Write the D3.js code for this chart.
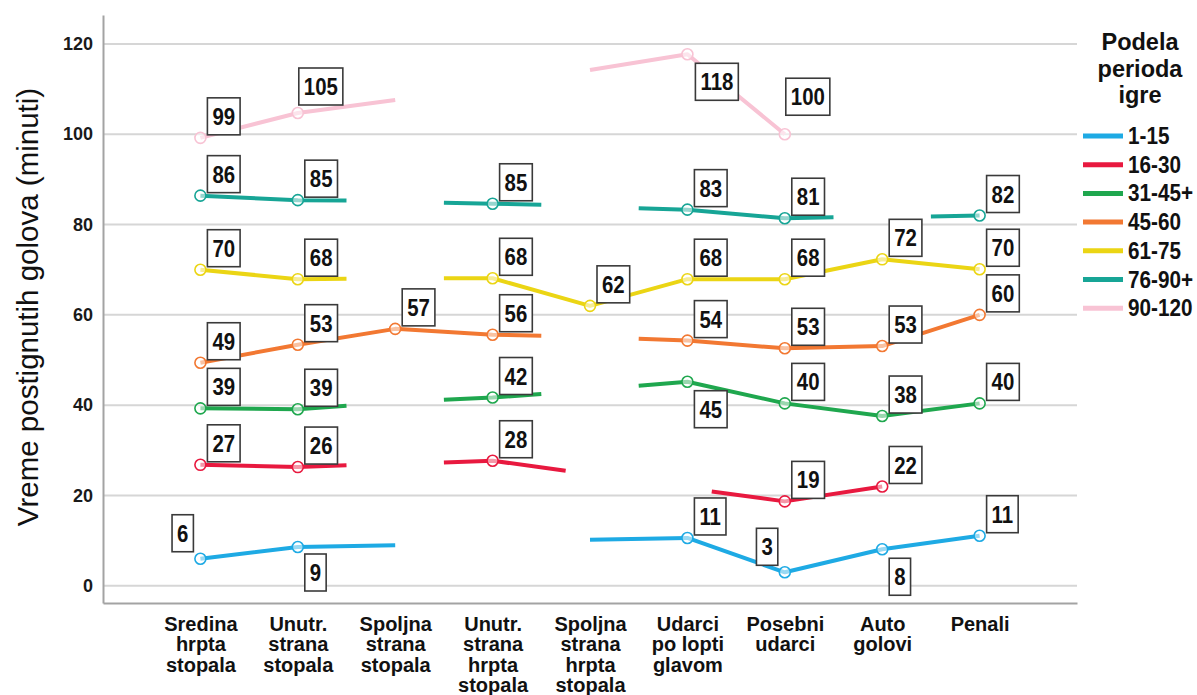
<!DOCTYPE html>
<html>
<head>
<meta charset="utf-8">
<script src="https://cdn.jsdelivr.net/npm/d3@7"></script>
<style>
  body { margin: 0; background: #fff; }
  text { font-family: "Liberation Sans", Arial, sans-serif; }
</style>
</head>
<body>
<svg id="chart" width="1197" height="695"></svg>
<script>
// x axis categories, "|" splits the label lines
var categories = ["Sredina|hrpta|stopala", "Unutr.|strana|stopala", "Spoljna|strana|stopala",
  "Unutr.|strana|hrpta|stopala", "Spoljna|strana|hrpta|stopala", "Udarci|po lopti|glavom",
  "Posebni|udarci", "Auto|golovi", "Penali"];
var yTicks = [0, 20, 40, 60, 80, 100, 120];
var seriesNames = ["1-15", "16-30", "31-45+", "45-60", "61-75", "76-90+", "90-120"];

// line pieces per series as [category position, minutes]
// (fractional positions = where the line is cut off next to a missing category)
var s1_15 = [[[0, 6.0], [1, 8.6], [2, 9.0]], [[4, 10.2], [5, 10.6], [6, 3.0], [7, 8.1], [8, 11.1]]];
var s16_30 = [[[0, 26.8], [1, 26.3], [1.5, 26.7]], [[2.5, 27.3], [3, 27.7], [3.75, 25.5]], [[5.25, 20.9], [6, 18.7], [7, 22.0]]];
var s31_45 = [[[0, 39.3], [1, 39.1], [1.5, 39.9]], [[2.5, 41.2], [3, 41.7], [3.5, 42.5]], [[4.5, 44.3], [5, 45.2], [6, 40.4], [7, 37.6], [8, 40.4]]];
var s45_60 = [[[0, 49.4], [1, 53.4], [2, 56.9], [3, 55.6], [3.5, 55.4]], [[4.5, 54.7], [5, 54.3], [6, 52.6], [7, 53.1], [8, 60.0]]];
var s61_75 = [[[0, 70.0], [1, 67.9], [1.5, 68.0]], [[2.5, 68.1], [3, 68.1], [4, 62.0], [5, 67.9], [6, 67.9], [7, 72.3], [8, 70.1]]];
var s76_90 = [[[0, 86.4], [1, 85.4], [1.5, 85.3]], [[2.5, 84.8], [3, 84.6], [3.5, 84.4]], [[4.5, 83.6], [5, 83.3], [6, 81.4], [6.5, 81.6]], [[7.5, 81.8], [8, 82.0]]];
var s90_120 = [[[0, 99.2], [1, 104.7], [2, 107.6]], [[4, 114.2], [5, 117.7], [6, 100.0]]];

// categories that carry a marker and a value label
var m1_15 = [0, 1, 5, 6, 7, 8];
var m16_30 = [0, 1, 3, 6, 7];
var m31_45 = [0, 1, 3, 5, 6, 7, 8];
var m45_60 = [0, 1, 2, 3, 5, 6, 7, 8];
var m61_75 = [0, 1, 3, 4, 5, 6, 7, 8];
var m76_90 = [0, 1, 3, 5, 6, 8];
var m90_120 = [0, 1, 5, 6];

var lines = [s1_15, s16_30, s31_45, s45_60, s61_75, s76_90, s90_120];
var marks = [m1_15, m16_30, m31_45, m45_60, m61_75, m76_90, m90_120];
var colors = ["#1eaae4", "#e8193f", "#1fa74e", "#f27832", "#ebd514", "#17a596", "#f8c3d4"];

// label box placement: default is up-right of the point
var labelPlace = {
  "0-0": {side: "nw"}, "0-1": {side: "se"}, "0-6": {side: "nw"}, "0-7": {side: "se", dy: 2},
  "2-5": {side: "se", dy: 2},
  "6-1": {side: "ne", dx: -6, dy: -5}, "6-5": {side: "se", dx: 1, dy: 2}, "6-6": {side: "ne", dx: -6, dy: -16}
};

var svg = d3.select("#chart");
var x = d3.scaleLinear().domain([-1, 9]).range([103, 1077]);
var y = d3.scaleLinear().domain([-3.8, 126.4]).range([603, 15]);

// grid
svg.append("g").selectAll("line")
  .data(yTicks)
  .join("line")
  .attr("x1", x(-1)).attr("x2", x(9))
  .attr("y1", d => y(d)).attr("y2", d => y(d))
  .attr("stroke", "#d6d6d6").attr("stroke-width", 2);

// y axis
var yAxis = svg.append("g")
  .attr("transform", "translate(" + x(-1) + ",0)")
  .call(d3.axisLeft(y).tickValues(yTicks).tickSize(0).tickSizeOuter(0).tickPadding(10));
yAxis.select(".domain").attr("stroke", "#a3a3a3").attr("stroke-width", 2);
yAxis.selectAll("text")
  .attr("font-size", 18).attr("font-weight", "bold").attr("fill", "#1a1a1a")
  .style("font-family", '"Liberation Sans", Arial, sans-serif');

// x axis
var xAxis = svg.append("g")
  .attr("transform", "translate(0," + y.range()[0] + ")")
  .call(d3.axisBottom(x).tickValues(d3.range(categories.length)).tickSize(0).tickSizeOuter(0).tickFormat(""));
xAxis.select(".domain").attr("stroke", "#a3a3a3").attr("stroke-width", 2);
xAxis.selectAll(".tick text").remove();
xAxis.selectAll(".tick").append("text")
  .attr("y", 28)
  .attr("text-anchor", "middle")
  .attr("font-size", 20).attr("font-weight", "bold").attr("fill", "#111")
  .style("font-family", '"Liberation Sans", Arial, sans-serif')
  .each(function (d) {
    var t = d3.select(this);
    categories[d].split("|").forEach((part, k) => {
      t.append("tspan").attr("x", 0).attr("dy", k === 0 ? 0 : 20.4).text(part);
    });
  });

// y title
svg.append("text")
  .attr("transform", "translate(38," + 307 + ") rotate(-90)")
  .attr("text-anchor", "middle")
  .attr("font-size", 29.5).attr("fill", "#111")
  .text("Vreme postignutih golova (minuti)");

// lines
var line = d3.line().x(d => x(d[0])).y(d => y(d[1]));
lines.forEach((pieces, si) => {
  svg.append("g").selectAll("path")
    .data(pieces)
    .join("path")
    .attr("d", line)
    .attr("fill", "none")
    .attr("stroke", colors[si])
    .attr("stroke-width", 4)
    .attr("stroke-linejoin", "round");
});

// markers
var points = [];
lines.forEach((pieces, si) => {
  var all = [].concat(...pieces);
  marks[si].forEach(c => {
    var p = all.find(d => d[0] === c);
    points.push({s: si, c: c, v: p[1]});
  });
});
svg.append("g").selectAll("circle")
  .data(points)
  .join("circle")
  .attr("cx", d => x(d.c)).attr("cy", d => y(d.v))
  .attr("r", 5.5)
  .attr("fill", "#fff").attr("fill-opacity", 0.55)
  .attr("stroke", d => colors[d.s]).attr("stroke-width", 1.6);

// value labels in boxes
var fmt = d3.format(".0f");
var sx = 0.85, boxH = 37;
var lab = svg.append("g").selectAll("g")
  .data(points)
  .join("g");
lab.each(function (d) {
  var g = d3.select(this);
  var px = x(d.c), py = y(d.v);
  var t = g.append("text")
    .attr("text-anchor", "middle")
    .attr("font-size", 24).attr("font-weight", "bold").attr("fill", "#111")
    .text(fmt(d.v));
  var w = t.node().getComputedTextLength() * sx + 10;
  var pl = labelPlace[d.s + "-" + d.c] || {side: "ne"};
  var bx = pl.side === "nw" ? px - 7 - w : px + 7;
  var by = pl.side === "se" ? py + 7 : py - 3 - boxH;
  if (pl.side === "nw") by = py - 7 - boxH;
  bx += pl.dx || 0;
  by += pl.dy || 0;
  g.insert("rect", "text")
    .attr("x", bx).attr("y", by).attr("width", w).attr("height", boxH)
    .attr("fill", "#fff").attr("stroke", "#3a3a3a").attr("stroke-width", 1.6);
  t.attr("transform", "translate(" + (bx + w / 2) + "," + (by + boxH / 2 + 8.6) + ") scale(" + sx + ",1)");
});

// legend
var leg = svg.append("g");
leg.selectAll(".ttl")
  .data(["Podela", "perioda", "igre"])
  .join("text")
  .attr("class", "ttl")
  .attr("x", 1140)
  .attr("y", (d, i) => 50 + i * 26.5)
  .attr("text-anchor", "middle")
  .attr("font-size", 23.5).attr("font-weight", "bold").attr("fill", "#111")
  .text(d => d);
var item = leg.selectAll(".item")
  .data(seriesNames)
  .join("g")
  .attr("class", "item")
  .attr("transform", (d, i) => "translate(1083," + (136 + i * 28.7) + ")");
item.append("line")
  .attr("x1", 0).attr("x2", 40)
  .attr("stroke", (d, i) => colors[i]).attr("stroke-width", 5);
item.append("text")
  .attr("transform", "translate(45,8) scale(0.9,1)")
  .attr("font-size", 23).attr("font-weight", "bold").attr("fill", "#111")
  .text(d => d);
</script>
</body>
</html>
